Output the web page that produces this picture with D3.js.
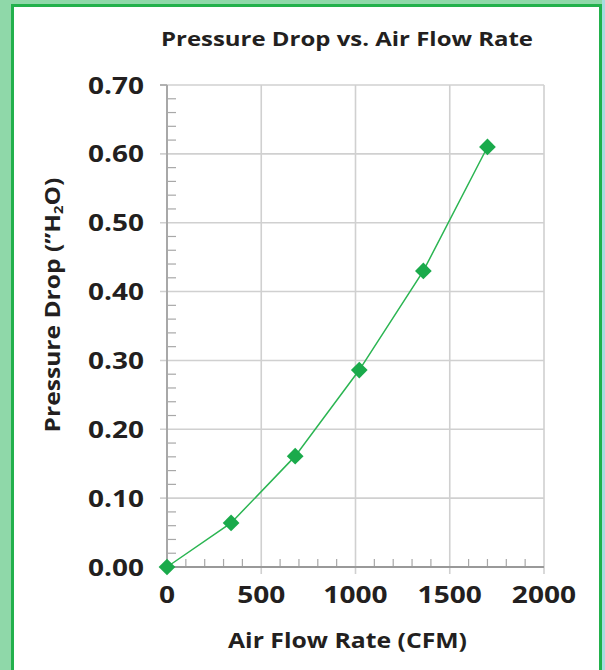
<!DOCTYPE html>
<html>
<head>
<meta charset="utf-8">
<script src="https://cdn.jsdelivr.net/npm/d3@7/dist/d3.min.js"></script>
<style>
html,body{margin:0;padding:0;background:#fff;}
svg{display:block;}
text{font-family:"Open Sans","DejaVu Sans",sans-serif;font-weight:700;fill:#231f20;}
</style>
</head>
<body>
<script>
// Data
const flowRate = [0, 340, 680, 1020, 1360, 1700];           // CFM
const pressureDrop = [0, 0.064, 0.161, 0.286, 0.43, 0.61];   // "H2O
const xTicks = [0, 500, 1000, 1500, 2000];
const yTicks = [0, 0.1, 0.2, 0.3, 0.4, 0.5, 0.6, 0.7];
const title = "Pressure Drop vs. Air Flow Rate";
const xTitle = "Air Flow Rate (CFM)";

const W = 605, H = 670;
const svg = d3.select("body").append("svg").attr("width", W).attr("height", H);

// frame
svg.append("rect").attr("x",0).attr("y",0).attr("width",W).attr("height",H).attr("fill","#8fd8a9");
svg.append("rect").attr("x",602).attr("y",0).attr("width",3).attr("height",H).attr("fill","#a6dde0");
svg.append("rect").attr("x",11).attr("y",4).attr("width",591).attr("height",H).attr("fill","#22b14c");
svg.append("rect").attr("x",14).attr("y",7).attr("width",585).attr("height",H).attr("fill","#ffffff");

const x = d3.scaleLinear().domain([0, 2000]).range([167, 544]);
const y = d3.scaleLinear().domain([0, 0.7]).range([567, 85]);

const gridColor = "#d0d0d0", axisColor = "#a8a8a8";

// grid
svg.append("g").selectAll("line").data(xTicks.filter(d => d > 0)).join("line")
  .attr("x1", d => x(d)).attr("x2", d => x(d)).attr("y1", y(0.7)).attr("y2", y(0) + 7)
  .attr("stroke", gridColor).attr("stroke-width", 1.6);
svg.append("g").selectAll("line").data(yTicks.filter(d => d > 0)).join("line")
  .attr("x1", x(0) - 7).attr("x2", x(2000)).attr("y1", d => y(d)).attr("y2", d => y(d))
  .attr("stroke", gridColor).attr("stroke-width", 1.6);

// minor ticks
const yMinor = d3.range(0, 0.7001, 0.02).filter((d,i) => i % 5 !== 0);
svg.append("g").selectAll("line").data(yMinor).join("line")
  .attr("x1", x(0)).attr("x2", x(0) + 9).attr("y1", d => y(d)).attr("y2", d => y(d))
  .attr("stroke", axisColor).attr("stroke-width", 1.2);
const xMinor = d3.range(0, 2001, 100).filter((d,i) => i % 5 !== 0);
svg.append("g").selectAll("line").data(xMinor).join("line")
  .attr("x1", d => x(d)).attr("x2", d => x(d)).attr("y1", y(0)).attr("y2", y(0) - 8)
  .attr("stroke", axisColor).attr("stroke-width", 1.2);

// axes lines
svg.append("line").attr("x1", x(0)).attr("x2", x(0)).attr("y1", y(0.7)).attr("y2", y(0))
  .attr("stroke", axisColor).attr("stroke-width", 2);
svg.append("line").attr("x1", x(0)).attr("x2", x(2000)).attr("y1", y(0)).attr("y2", y(0))
  .attr("stroke", "#999").attr("stroke-width", 2);
svg.append("line").attr("x1", x(0)-7).attr("x2", x(0)).attr("y1", y(0.7)).attr("y2", y(0.7))
  .attr("stroke", axisColor).attr("stroke-width", 1.6);
svg.append("line").attr("x1", x(0)).attr("x2", x(0)).attr("y1", y(0)).attr("y2", y(0)+7)
  .attr("stroke", axisColor).attr("stroke-width", 1.6);

function widen(sel, k) {
  sel.each(function(){
    const l = this.getComputedTextLength();
    d3.select(this).attr("textLength", l * k).attr("lengthAdjust", "spacingAndGlyphs");
  });
}
function fit(sel, w) {
  sel.each(function(){
    d3.select(this).attr("textLength", w).attr("lengthAdjust", "spacingAndGlyphs");
  });
}

// y tick labels
svg.append("g").selectAll("text").data(yTicks).join("text")
  .attr("x", 144).attr("y", d => y(d) + 8.5)
  .attr("text-anchor", "end").attr("font-size", 24)
  .text(d => d.toFixed(2))
  .call(fit, 56);

// x tick labels
svg.append("g").selectAll("text").data(xTicks).join("text")
  .attr("x", d => x(d)).attr("y", 603)
  .attr("text-anchor", "middle").attr("font-size", 24)
  .text(d => d)
  .call(widen, 1.17);

// title
svg.append("text").attr("x", 347).attr("y", 46).attr("text-anchor", "middle")
  .attr("font-size", 19.5).text(title).call(fit, 372);

// x title
svg.append("text").attr("x", 347.5).attr("y", 648).attr("text-anchor", "middle")
  .attr("font-size", 21.5).text(xTitle).call(fit, 239);

// y title
const ytG = svg.append("g").attr("transform", "translate(60,305) rotate(-90)");
const yt = ytG.append("text").attr("text-anchor", "middle").attr("font-size", 21.5);
yt.append("tspan").text("Pressure Drop (\u201DH");
yt.append("tspan").attr("font-size", 13).attr("dy", 3).text("2");
yt.append("tspan").attr("dy", -3).text("O)");
{
  const bb = yt.node().getBBox();
  const k = 255 / bb.width;
  yt.attr("transform", `scale(${k},1)`);
}

// line
const pts = flowRate.map((f, i) => [f, pressureDrop[i]]);
const green = "#1aaa4b";
svg.append("path").datum(pts)
  .attr("d", d3.line().x(d => x(d[0])).y(d => y(d[1])))
  .attr("fill", "none").attr("stroke", "#2bb552").attr("stroke-width", 1.5);

// markers
svg.append("g").selectAll("path").data(pts).join("path")
  .attr("d", d3.symbol().type(d3.symbolSquare).size(140))
  .attr("transform", d => `translate(${x(d[0])},${y(d[1])}) rotate(45)`)
  .attr("fill", green);
</script>
</body>
</html>
